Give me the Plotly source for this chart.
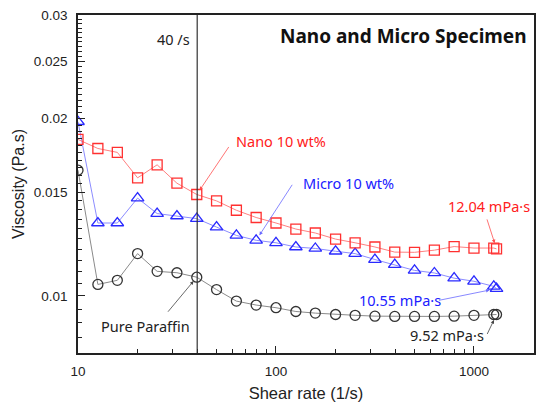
import numpy as np
import plotly.graph_objects as go

# ---- data ----
shear_rate = [10, 12.6, 15.8, 20, 25.1, 31.6, 39.8, 50.1, 63.1, 79.4, 100, 126, 158, 200,
              251, 316, 398, 501, 631, 794, 1000, 1259, 1300]
nano = [0.01844, 0.0178, 0.01753, 0.01587, 0.0167, 0.01554, 0.01487, 0.0145, 0.01398, 0.01359,
        0.0133, 0.01299, 0.01279, 0.01249, 0.01231, 0.01211, 0.01187, 0.01186, 0.01196, 0.01213,
        0.01206, 0.01206, 0.01202]
micro = [0.01976, 0.0133, 0.0133, 0.01466, 0.0138, 0.01367, 0.01353, 0.01309, 0.01267, 0.01243,
         0.01231, 0.01211, 0.01204, 0.01191, 0.0118, 0.01153, 0.0113, 0.01105, 0.01094, 0.01072,
         0.01059, 0.01038, 0.01029]
pure = [0.01635, 0.01046, 0.01063, 0.0118, 0.01101, 0.01095, 0.01076, 0.01025, 0.0098, 0.00965,
        0.00955, 0.00941, 0.00935, 0.0093, 0.00927, 0.00924, 0.00923, 0.00923, 0.00923, 0.00924,
        0.00927, 0.0093, 0.0093]
ref_rate = 40
y_ticks = [0.01, 0.015, 0.02, 0.025, 0.03]
y_ticktext = ["0.01", "0.015", "0.02", "0.025", "0.03"]
x_ticks = [10, 100, 1000]
x_ticktext = ["10", "100", "1000"]
y_minor = [round(0.0085 + 0.0005 * i, 4) for i in range(43)]
y_minor = [v for v in y_minor if v not in y_ticks and v < 0.0301]
x_minor = [m * d for d in (10, 100) for m in range(2, 10)]

FONT_T = "Liberation Sans, Arial, sans-serif"
FONT_A = "Noto Sans, Open Sans, sans-serif"

fig = go.Figure()
fig.add_trace(go.Scatter(x=shear_rate, y=pure, mode="lines+markers",
                         line=dict(color="#8a8a8a", width=1),
                         marker=dict(symbol="circle-open", size=10, color="#333333",
                                     line=dict(width=1.3))))
fig.add_trace(go.Scatter(x=shear_rate, y=micro, mode="lines+markers",
                         line=dict(color="#8c8cff", width=1),
                         marker=dict(symbol="triangle-up-open", size=11, color="#2a2aff",
                                     line=dict(width=1.3))))
fig.add_trace(go.Scatter(x=shear_rate, y=nano, mode="lines+markers",
                         line=dict(color="#ff8080", width=1),
                         marker=dict(symbol="square-open", size=10, color="#ff3030",
                                     line=dict(width=1.3))))

fig.add_shape(type="line", xref="x", yref="paper", x0=ref_rate, x1=ref_rate, y0=0, y1=1,
              line=dict(color="#333333", width=1.2))

def arrow(xv, yv, ax, ay, color, standoff=5):
    fig.add_annotation(x=np.log10(xv), y=np.log10(yv), xref="x", yref="y", text="",
                       showarrow=True, ax=ax, ay=ay, arrowhead=2, arrowsize=0.9,
                       arrowwidth=0.8, arrowcolor=color, standoff=standoff)

def label(px, py, text, color, size=14, anchor="left", bold=False):
    fig.add_annotation(x=(px - 78) / 456, y=(353 - py) / 338, xref="paper", yref="paper",
                       text=("<b>%s</b>" % text) if bold else text, showarrow=False,
                       xanchor=anchor, yanchor="middle",
                       font=dict(family=FONT_A, size=size, color=color))

arrow(shear_rate[6], nano[6], 33, -49, "#ff5050", 5)
arrow(shear_rate[9], micro[9], 37, -57, "#6a6aff", 6)
arrow(shear_rate[-1], nano[-1], -10, -31, "#ff5050", 6)
arrow(shear_rate[-1], micro[-1], -59, 12, "#6a6aff", 7)
arrow(shear_rate[-1], pure[-1], -10, 21, "#444444", 6)
arrow(shear_rate[6], pure[6], -30, 36, "#444444", 5)

label(155, 39, "40 /s", "#222222", 14.5)
label(529, 36, "Nano and Micro Specimen", "#111111", 19, anchor="right", bold=True)
label(234, 141, "Nano 10 wt%", "#ff2020", 14.5)
label(301, 183, "Micro 10 wt%", "#2020ff", 14.5)
label(446, 206, "12.04 mPa·s", "#ff2020", 14.5)
label(357, 300, "10.55 mPa·s", "#2020ff", 14.5)
label(408, 335, "9.52 mPa·s", "#222222", 14.5)
label(99, 326, "Pure Paraffin", "#222222", 14.5)

fig.update_layout(
    width=538, height=403, margin=dict(l=78, r=4, t=15, b=50, autoexpand=False),
    paper_bgcolor="white", plot_bgcolor="white", showlegend=False,
    font=dict(family=FONT_T, color="#222222"),
)
fig.update_xaxes(type="log", range=[1, np.log10(2010)], tickvals=x_ticks, ticktext=x_ticktext,
                 ticks="inside", ticklen=7, tickwidth=1.2, tickcolor="#222",
                 minor=dict(tickvals=x_minor, ticks="inside", ticklen=4, tickcolor="#222"),
                 showline=True, linecolor="#222", linewidth=1.5, mirror=True, showgrid=False,
                 zeroline=False, tickfont=dict(size=13.5), ticklabelstandoff=5,
                 title=dict(text="Shear rate (1/s)", font=dict(size=16.5), standoff=9),
                 automargin=False)
fig.update_yaxes(type="log", range=[np.log10(0.008), np.log10(0.03)], tickvals=y_ticks,
                 ticktext=y_ticktext, ticks="inside", ticklen=7, tickwidth=1.2, tickcolor="#222",
                 minor=dict(tickvals=y_minor, ticks="inside", ticklen=4, tickcolor="#222"),
                 showline=True, linecolor="#222", linewidth=1.5, mirror=True, showgrid=False,
                 zeroline=False, tickfont=dict(size=13.5), ticklabelstandoff=6,
                 title=dict(text="Viscosity (Pa.s)", font=dict(size=16), standoff=5),
                 automargin=False)

fig.write_html("out.html", config={"displayModeBar": False},
               post_script="document.body.style.margin='0px';")
